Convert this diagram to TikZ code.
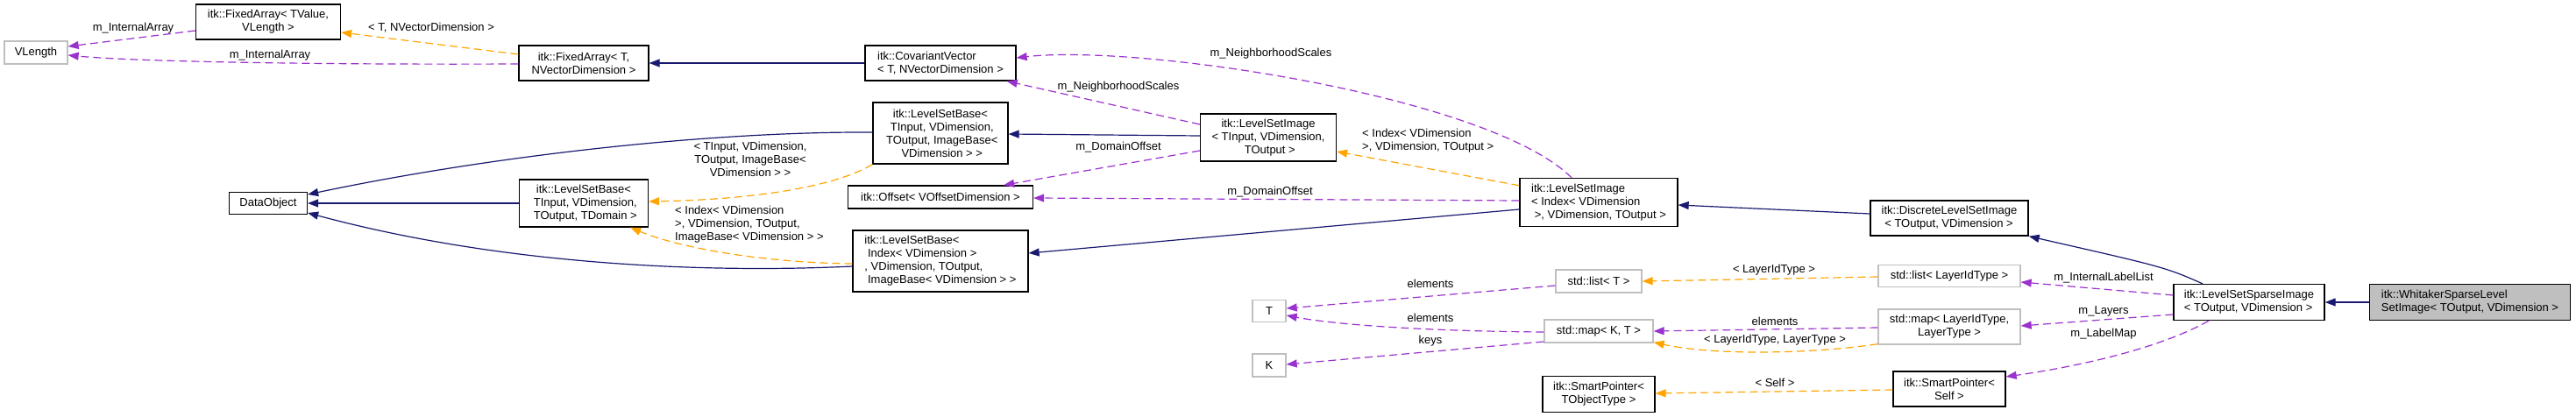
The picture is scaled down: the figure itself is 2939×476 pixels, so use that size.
\documentclass[tikz,border=0pt]{standalone}
\usepackage{fontspec}
\setmainfont{Liberation Sans}
\usetikzlibrary{arrows.meta,calc}
\definecolor{inhc}{HTML}{191970}
\definecolor{usec}{HTML}{9A32CD}
\definecolor{tplc}{HTML}{FFA500}
\definecolor{gbord}{HTML}{BFBFBF}
\begin{document}
\begin{tikzpicture}[x=1pt,y=-1pt,
  every node/.style={font=\fontsize{13}{15}\selectfont},
  box/.style 2 args={inner sep=0pt,minimum width=#1pt,minimum height=#2pt},
  cls/.style={draw=black,line width=1.3pt,fill=white},
  ext/.style={draw=gbord,line width=1.3pt,fill=white},
  main/.style={draw=black,line width=1.3pt,fill=gbord},
  tip/.style={-{Triangle[length=12pt,width=9pt]}},
  inh/.style={tip,draw=inhc,line width=1.2pt},
  usee/.style={tip,draw=usec,line width=1.2pt,dash pattern=on 9pt off 5pt},
  tpl/.style={tip,draw=tplc,line width=1.2pt,dash pattern=on 9pt off 5pt},
  lbl/.style={inner sep=0pt}]
\useasboundingbox[fill=white] (0,0) rectangle (2939,476);

% nodes
\node[ext,box={72}{26}] (vlen) at (41,60) {VLength};
\node[cls,box={165}{40},align=center] (faTV) at (306,25) {itk::FixedArray< TValue,\\VLength >};
\node[cls,box={148}{40},align=center] (faT) at (666,72) {itk::FixedArray< T,\\NVectorDimension >};
\node[cls,box={89}{25}] (dobj) at (306,232) {DataObject};
\node[cls,box={147}{54},align=center] (lsbTD) at (666,232) {itk::LevelSetBase<\\\ TInput, VDimension,\\\ TOutput, TDomain >};
\node[cls,box={172}{40},align=left] (covv) at (1073,72) {itk::CovariantVector\\< T, NVectorDimension >};
\node[cls,box={154}{70},align=center] (lsbIB) at (1073,152) {itk::LevelSetBase<\\\ TInput, VDimension,\\\ TOutput, ImageBase<\\\ VDimension > >};
\node[cls,box={155}{54},align=center] (lsiTI) at (1447,157) {itk::LevelSetImage\\< TInput, VDimension,\\\ TOutput >};
\node[cls,box={211}{26}] (offs) at (1073,225) {itk::Offset< VOffsetDimension >};
\node[cls,box={200}{70},align=left] (lsbIdx) at (1073,298) {itk::LevelSetBase<\\\ Index< VDimension >\\, VDimension, TOutput,\\\ ImageBase< VDimension > >};
\node[ext,box={38}{25}] (T) at (1448,355) {T};
\node[ext,box={38}{26}] (K) at (1448,417) {K};
\node[cls,box={180}{55},align=left] (lsiIdx) at (1824,231) {itk::LevelSetImage\\< Index< VDimension\\\ >, VDimension, TOutput >};
\node[cls,box={180}{40},align=left] (dlsi) at (2224,249) {itk::DiscreteLevelSetImage\\\ < TOutput, VDimension >};
\node[ext,box={98}{26}] (listT) at (1824,321) {std::list< T >};
\node[ext,box={162}{25}] (listL) at (2224,315) {std::list< LayerIdType >};
\node[ext,box={124}{26}] (mapKT) at (1824,378) {std::map< K, T >};
\node[ext,box={162}{40},align=center] (mapL) at (2224,373) {std::map< LayerIdType,\\LayerType >};
\node[cls,box={128}{41},align=center] (spT) at (1824,450) {itk::SmartPointer<\\TObjectType >};
\node[cls,box={128}{40},align=center] (spS) at (2224,444) {itk::SmartPointer<\\Self >};
\node[cls,box={172}{41},align=left] (lssi) at (2566,345) {itk::LevelSetSparseImage\\< TOutput, VDimension >};
\node[main,box={229}{41},align=left] (whit) at (2818,345) {itk::WhitakerSparseLevel\\SetImage< TOutput, VDimension >};

% edges
\draw[usee] ($(faTV.west)+(0,10)$) -- ($(vlen.east)+(0,-7)$);
\draw[usee] ($(faT.west)+(0,1)$) .. controls (350,74) and (150,70) .. ($(vlen.east)+(0,3)$);
\draw[tpl] ($(faT.west)+(0,-10)$) -- ($(faTV.east)+(0,12)$);
\draw[inh] (covv.west) -- (faT.east);
\draw[inh] ($(lsbIB.west)+(0,-1)$) .. controls (800,150) and (550,180) .. ($(dobj.east)+(0,-10)$);
\draw[inh] (lsbTD.west) -- (dobj.east);
\draw[inh] ($(lsbIdx.west)+(0,6)$) .. controls (850,310) and (600,310) .. ($(dobj.east)+(0,11)$);
\draw[inh] ($(lsiTI.west)+(0,-2)$) -- ($(lsbIB.east)+(0,1)$);
\draw[usee] ($(lsiTI.west)+(0,-15)$) -- ($(covv.south east)+(-11,0)$);
\draw[usee] ($(lsiTI.west)+(0,15)$) -- ($(offs.north east)+(-34,0)$);
\draw[tpl] ($(lsiIdx.north west)+(0,9)$) -- ($(lsiTI.east)+(0,16)$);
\draw[usee] ($(lsiIdx.north)+(-31,0)$) .. controls (1700,110) and (1300,50) .. ($(covv.east)+(0,-6)$);
\draw[usee] ($(lsiIdx.west)+(0,-2)$) -- ($(offs.east)+(0,1)$);
\draw[inh] ($(lsiIdx.west)+(0,8)$) -- ($(lsbIdx.east)+(0,-9)$);
\draw[tpl] ($(lsbIdx.west)+(0,3)$) .. controls (880,300) and (780,285) .. ($(lsbTD.south east)+(-21,0)$);
\draw[tpl] (lsbIB.south west) .. controls (950,215) and (850,228) .. ($(lsbTD.east)+(0,-2)$);
\draw[inh] ($(dlsi.west)+(0,-5)$) -- ($(lsiIdx.east)+(0,3)$);
\draw[inh] ($(lssi.north)+(-53,0)$) .. controls (2470,305) .. (dlsi.south east);
\draw[inh] (whit.west) -- (lssi.east);
\draw[usee] ($(lssi.west)+(0,-8)$) -- ($(listL.east)+(0,7)$);
\draw[usee] ($(lssi.west)+(0,14)$) -- ($(mapL.east)+(0,-1)$);
\draw[usee] ($(lssi.south)+(-46,0)$) .. controls (2460,400) and (2360,420) .. ($(spS.east)+(0,-14)$);
\draw[tpl] ($(listL.west)+(0,1)$) -- (listT.east);
\draw[usee] ($(mapL.west)+(0,1)$) -- (mapKT.east);
\draw[tpl] ($(mapL.south west)+(0,-1)$) .. controls (2060,405) and (1950,405) .. ($(mapKT.south east)+(0,-1)$);
\draw[usee] ($(listT.west)+(0,5)$) -- ($(T.east)+(0,-3)$);
\draw[usee] ($(mapKT.west)+(0,1)$) .. controls (1620,378) and (1520,370) .. ($(T.east)+(0,5)$);
\draw[usee] ($(mapKT.west)+(0,12)$) -- ($(K.east)+(0,-1)$);
\draw[tpl] ($(spS.west)+(0,1)$) -- ($(spT.east)+(0,-1)$);

% labels
\node[lbl] (l1) at (152,32) {m\_InternalArray};
\node[lbl] (l2) at (308,63) {m\_InternalArray};
\node[lbl] (l3) at (492,32) {< T, NVectorDimension >};
\node[lbl] (l9) at (1276,99) {m\_NeighborhoodScales};
\node[lbl] (l10) at (1276,168) {m\_DomainOffset};
\node[lbl,anchor=west,align=left] (l11) at (1554,161) {< Index< VDimension\\>, VDimension, TOutput >};
\node[lbl] (l12) at (1450,61) {m\_NeighborhoodScales};
\node[lbl] (l13) at (1449,219) {m\_DomainOffset};
\node[lbl,anchor=west,align=left] (l15) at (770,256) {< Index< VDimension\\>, VDimension, TOutput,\\ImageBase< VDimension > >};
\node[lbl,align=center] (l16) at (856,182) {< TInput, VDimension,\\TOutput, ImageBase<\\VDimension > >};
\node[lbl] (l20) at (2400,317) {m\_InternalLabelList};
\node[lbl] (l21) at (2400,355) {m\_Layers};
\node[lbl] (l22) at (2400,381) {m\_LabelMap};
\node[lbl] (l23) at (2024,308) {< LayerIdType >};
\node[lbl] (l24) at (2025,367) {elements};
\node[lbl] (l25) at (2025,388) {< LayerIdType, LayerType >};
\node[lbl] (l26) at (1632,324) {elements};
\node[lbl] (l27) at (1632,363) {elements};
\node[lbl] (l28) at (1632,389) {keys};
\node[lbl] (l29) at (2025,437) {< Self >};
\end{tikzpicture}
\end{document}
